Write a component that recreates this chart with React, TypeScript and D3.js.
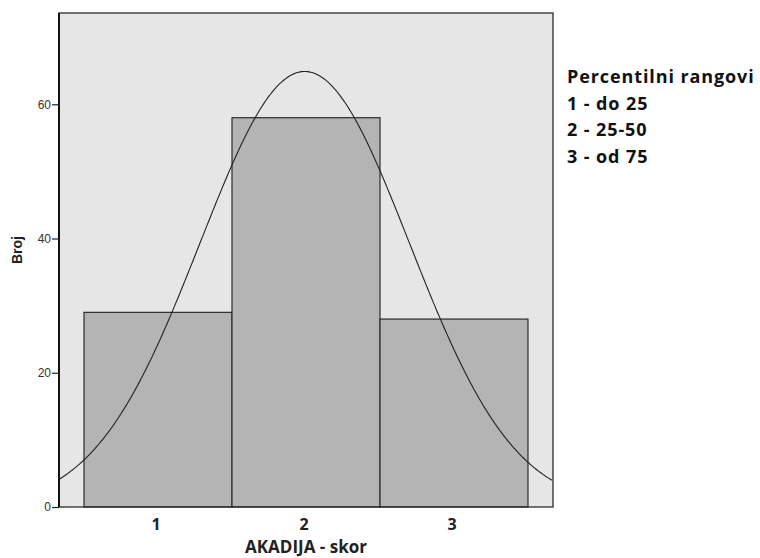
import { useEffect, useRef } from 'react'
import * as d3 from 'd3'

const CATEGORIES = [1, 2, 3]
const COUNTS     = [29, 58, 28]
const Y_TICKS    = [0, 20, 40, 60]
const LEGEND     = ['Percentilni rangovi', '1 - do 25', '2 - 25-50', '3 - od 75']

const W = 760
const H = 558
const PLOT = { left: 59, top: 13, right: 553, bottom: 507 }
const LABEL_FONT = 'Open Sans, Lato, sans-serif'

export default function App() {
  const svgRef = useRef<SVGSVGElement>(null)

  useEffect(() => {
    const svg = d3.select(svgRef.current)
    svg.selectAll('*').remove()

    const x = d3.scaleLinear().domain([0.331, 3.669]).range([PLOT.left, PLOT.right])
    const y = d3.scaleLinear().domain([0, 73.6]).range([PLOT.bottom, PLOT.top])

    // plot background
    svg.append('rect')
      .attr('x', PLOT.left).attr('y', PLOT.top)
      .attr('width', PLOT.right - PLOT.left).attr('height', PLOT.bottom - PLOT.top)
      .attr('fill', '#e6e6e6')

    // bars
    svg.append('g').selectAll('rect')
      .data(CATEGORIES)
      .join('rect')
      .attr('x', d => x(d - 0.5))
      .attr('y', (d, i) => y(COUNTS[i]))
      .attr('width', x(1.5) - x(0.5))
      .attr('height', (d, i) => y(0) - y(COUNTS[i]))
      .attr('fill', '#b4b4b4')
      .attr('stroke', '#2b2b2b')
      .attr('stroke-width', 1.2)

    // normal curve fitted to the counts
    const n = d3.sum(COUNTS)
    const mean = d3.sum(CATEGORIES, (c, i) => c * COUNTS[i]) / n
    const sd = Math.sqrt(d3.sum(CATEGORIES, (c, i) => COUNTS[i] * (c - mean) ** 2) / (n - 1))
    const xs = d3.range(0.331, 3.67, 0.01)
    const dens = (v: number) => n / (sd * Math.sqrt(2 * Math.PI)) * Math.exp(-0.5 * ((v - mean) / sd) ** 2)
    svg.append('path')
      .datum(xs)
      .attr('fill', 'none')
      .attr('stroke', '#222')
      .attr('stroke-width', 1.1)
      .attr('d', d3.line<number>().x(d => x(d)).y(d => y(dens(d))))

    // frame
    svg.append('rect')
      .attr('x', PLOT.left).attr('y', PLOT.top)
      .attr('width', PLOT.right - PLOT.left).attr('height', PLOT.bottom - PLOT.top)
      .attr('fill', 'none').attr('stroke', '#2b2b2b').attr('stroke-width', 1.3)
    svg.append('line')
      .attr('x1', PLOT.left).attr('x2', PLOT.left).attr('y1', PLOT.top).attr('y2', PLOT.bottom)
      .attr('stroke', '#111').attr('stroke-width', 2)

    // y axis
    svg.append('g')
      .attr('transform', `translate(${PLOT.left},0)`)
      .call(d3.axisLeft(y).tickValues(Y_TICKS).tickSize(7).tickPadding(1))
      .call(ax => ax.select('.domain').remove())
      .call(ax => ax.selectAll('.tick line').attr('stroke', '#222').attr('stroke-width', 1.2))
      .call(ax => ax.selectAll('text').attr('font-size', 12).attr('fill', '#333')
        .attr('font-family', 'Liberation Sans, Arial, sans-serif'))

    svg.append('text')
      .attr('transform', `translate(22,${(PLOT.top + PLOT.bottom) / 2 - 10}) rotate(-90)`)
      .attr('text-anchor', 'middle')
      .attr('font-family', 'Liberation Sans, Arial, sans-serif')
      .attr('font-weight', 'bold').attr('font-size', 14).attr('fill', '#222')
      .text('Broj')

    // x labels
    svg.append('g').selectAll('text')
      .data(CATEGORIES)
      .join('text')
      .attr('x', d => x(d) - 2)
      .attr('y', 530)
      .attr('text-anchor', 'middle')
      .attr('font-family', LABEL_FONT)
      .attr('font-weight', 'bold').attr('font-size', 16).attr('fill', '#222')
      .text(d => String(d))

    svg.append('text')
      .attr('x', x(2)).attr('y', 553)
      .attr('text-anchor', 'middle')
      .attr('font-family', LABEL_FONT)
      .attr('font-weight', 'bold').attr('font-size', 17).attr('fill', '#222')
      .text('AKADIJA - skor')

    // legend text
    svg.append('g').selectAll('text')
      .data(LEGEND)
      .join('text')
      .attr('x', 567)
      .attr('y', (d, i) => 83 + i * 26.7)
      .attr('font-family', LABEL_FONT)
      .attr('font-weight', 'bold').attr('font-size', 18).attr('fill', '#111')
      .attr('letter-spacing', 0.9)
      .text(d => d)
  }, [])

  return (
    <svg ref={svgRef} width={W} height={H}
      style={{ position: 'absolute', left: 0, top: 0, background: '#fff', display: 'block' }} />
  )
}
